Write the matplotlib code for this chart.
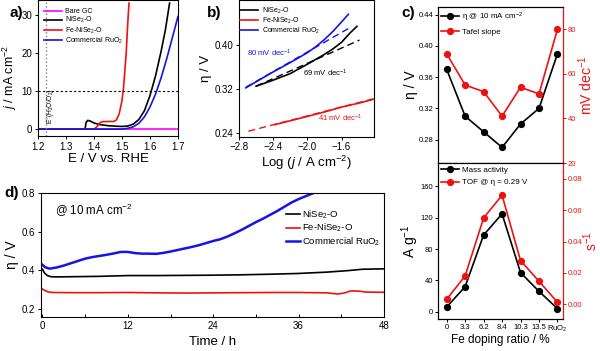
import numpy as np
import matplotlib
matplotlib.use("Agg")
import matplotlib.pyplot as plt

plt.rcParams['font.family'] = ['Liberation Sans', 'DejaVu Sans']
plt.rcParams['mathtext.fontset'] = 'custom'
plt.rcParams['mathtext.rm'] = 'Liberation Sans'
plt.rcParams['mathtext.it'] = 'Liberation Sans:italic'
plt.rcParams['axes.linewidth'] = 0.8

BLUE = '#1414e6'
RED = '#ee1111'
MAG = '#ff00ff'

# ---- a) LSV curves ----
E_bare = [1.20, 1.70]
j_bare = [0, 0]
E_ni = [1.20, 1.36, 1.368, 1.372, 1.378, 1.39, 1.40, 1.42, 1.45, 1.48, 1.50, 1.52, 1.54,
        1.56, 1.58, 1.60, 1.62, 1.64, 1.655, 1.67]
j_ni = [0, 0, 0.05, 1.8, 2.3, 2.0, 1.6, 1.2, 0.9, 0.75, 0.7, 0.8, 1.3,
        2.5, 4.8, 8.8, 14, 20.5, 26, 33]
E_fe = [1.20, 1.40, 1.41, 1.42, 1.43, 1.45, 1.47, 1.48, 1.49, 1.50, 1.505, 1.51, 1.515, 1.52, 1.525]
j_fe = [0, 0, 0.6, 1.6, 1.95, 2.0, 2.0, 2.4, 4.0, 7.5, 10.5, 15, 20, 27, 33]
E_ru = [1.20, 1.50, 1.52, 1.54, 1.56, 1.58, 1.60, 1.62, 1.64, 1.66, 1.68, 1.70]
j_ru = [0, 0, 0.2, 0.6, 1.5, 3.2, 5.8, 9.2, 13.5, 18.5, 24, 29.5]

# ---- b) Tafel plots ----
logj_ni = [-2.6, -2.4, -2.2, -2.0, -1.9, -1.8, -1.7, -1.6, -1.5, -1.42]
eta_ni = [0.325, 0.336, 0.348, 0.365, 0.374, 0.383, 0.393, 0.405, 0.422, 0.434]
logj_fe = [-2.38, -2.2, -2.0, -1.8, -1.6, -1.4, -1.23]
eta_fe = [0.255, 0.262, 0.270, 0.278, 0.287, 0.294, 0.301]
logj_ru = [-2.72, -2.6, -2.4, -2.2, -2.0, -1.9, -1.8, -1.7, -1.6, -1.52]
eta_ru = [0.322, 0.333, 0.351, 0.368, 0.386, 0.397, 0.410, 0.425, 0.442, 0.456]
fit_ni = ([-2.6, -1.39], [0.325, 0.409])
fit_fe = ([-2.69, -1.23], [0.243, 0.302])
fit_ru = ([-2.72, -1.52], [0.323, 0.430])

# ---- c) doping series ----
doping = ['0', '3.3', '6.2', '8.4', '10.3', '13.5', 'RuO$_2$']
eta10 = [0.37, 0.31, 0.29, 0.27, 0.30, 0.32, 0.39]
tafel = [69, 55, 52, 41, 54, 51, 80]
mass_act = [6, 32, 98, 125, 50, 26, 4]
tof = [0.0032, 0.0181, 0.0551, 0.0696, 0.0279, 0.0147, 0.0013]

# ---- d) stability ----
t_ru = [0, 0.4, 1, 2, 3, 4, 5, 6, 7, 8, 9, 10, 11, 12, 13, 14, 15, 16, 17, 18, 19, 20,
        21, 22, 23, 24, 25, 26, 27, 28, 29, 30, 31, 32, 33, 34, 35, 36, 37, 38, 38.5]
s_ru = [0.428, 0.415, 0.408, 0.414, 0.424, 0.436, 0.448, 0.460, 0.468, 0.474, 0.480, 0.487,
        0.495, 0.495, 0.489, 0.486, 0.486, 0.485, 0.490, 0.497, 0.505, 0.513, 0.521, 0.530,
        0.541, 0.552, 0.561, 0.575, 0.592, 0.610, 0.630, 0.650, 0.668, 0.688, 0.708, 0.730,
        0.752, 0.770, 0.785, 0.800, 0.810]
t_ni = [0, 0.3, 0.7, 1.2, 2, 4, 8, 12, 16, 20, 24, 28, 32, 36, 40, 43, 45, 48]
s_ni = [0.405, 0.385, 0.372, 0.366, 0.365, 0.366, 0.368, 0.372, 0.372, 0.373, 0.374,
        0.376, 0.379, 0.383, 0.390, 0.398, 0.405, 0.407]
t_fe = [0, 0.3, 0.8, 1.5, 4, 8, 12, 16, 20, 24, 28, 32, 36, 40, 41.5, 42.5, 43.3, 44.5, 45.5, 48]
s_fe = [0.302, 0.295, 0.287, 0.284, 0.283, 0.283, 0.284, 0.282, 0.281, 0.282, 0.283,
        0.284, 0.284, 0.282, 0.276, 0.282, 0.292, 0.291, 0.286, 0.285]

fig = plt.figure(figsize=(6, 3.51), dpi=100)

def box(l, t, r, b):
    return [l / 600, 1 - b / 351, (r - l) / 600, (b - t) / 351]

# ---------- a ----------
ax = fig.add_axes(box(38, 0, 178, 136))
ax.plot(E_bare, j_bare, color=MAG, lw=1.2, label='Bare GC')
ax.plot(E_ni, j_ni, color='k', lw=1.2, label='NiSe$_2$-O')
ax.plot(E_fe, j_fe, color=RED, lw=1.2, label='Fe-NiSe$_2$-O')
ax.plot(E_ru, j_ru, color=BLUE, lw=1.2, label='Commercial RuO$_2$')
ax.axvline(1.23, color='gray', ls=':', lw=1)
ax.axhline(10, color='k', ls='--', lw=0.8, dashes=(2, 2))
ax.text(1.247, 1.3, 'E$^{\\circ}$(H$_2$O/O$_2$)', rotation=90, fontsize=4.8, va='bottom', ha='center')
ax.set_xlim(1.2, 1.7)
ax.set_ylim(-1.8, 33.8)
ax.set_xticks([1.2, 1.3, 1.4, 1.5, 1.6, 1.7])
ax.set_yticks([0, 10, 20, 30])
ax.tick_params(labelsize=7, length=2.5, width=0.7, pad=1.5)
ax.set_xlabel('E / V vs. RHE', fontsize=9.5, labelpad=1)
ax.set_ylabel('$j$ / mA cm$^{-2}$', fontsize=9, labelpad=0)
ax.yaxis.set_label_coords(-0.135, 0.43)
ax.legend(loc='upper left', bbox_to_anchor=(0.03, 0.95), fontsize=5, frameon=False,
          labelspacing=0.0, handlelength=2.6, handletextpad=0.5, borderaxespad=0, borderpad=0.2)
fig.text(16 / 600, 1 - 13 / 351, 'a)', fontsize=11, fontweight='bold', ha='center', va='center')

# ---------- b ----------
ax = fig.add_axes(box(239, 0, 374, 136.7))
ax.plot(logj_ni, eta_ni, color='k', lw=1.2, label='NiSe$_2$-O')
ax.plot(logj_fe, eta_fe, color=RED, lw=1.2, label='Fe-NiSe$_2$-O')
ax.plot(logj_ru, eta_ru, color=BLUE, lw=1.2, label='Commercial RuO$_2$')
ax.plot(*fit_ni, color='k', lw=1.0, ls='--', dashes=(5, 3))
ax.plot(*fit_fe, color=RED, lw=1.0, ls='--', dashes=(5, 3))
ax.plot(*fit_ru, color=BLUE, lw=1.0, ls='--', dashes=(5, 3))
ax.text(-2.71, 0.385, '80 mV dec$^{-1}$', color=BLUE, fontsize=5.5, va='center')
ax.text(-2.05, 0.349, '69 mV dec$^{-1}$', color='k', fontsize=5.5, va='center')
ax.text(-1.88, 0.267, '41 mV dec$^{-1}$', color=RED, fontsize=5.5, va='center')
ax.set_xlim(-2.8, -1.22)
ax.set_ylim(0.233, 0.482)
ax.set_xticks([-2.8, -2.4, -2.0, -1.6])
ax.set_yticks([0.24, 0.32, 0.40])
ax.tick_params(labelsize=7, length=2.5, width=0.7, pad=1.5)
ax.set_xlabel('Log ($j$ / A cm$^{-2}$)', fontsize=9.5, labelpad=1)
ax.set_ylabel('η / V', fontsize=9.5, labelpad=2)
ax.legend(loc='upper left', bbox_to_anchor=(0.0, 0.97), fontsize=5, frameon=False,
          labelspacing=0.0, handlelength=2.6, handletextpad=0.5, borderaxespad=0, borderpad=0.2)
fig.text(214 / 600, 1 - 13 / 351, 'b)', fontsize=11, fontweight='bold', ha='center', va='center')

# ---------- c top ----------
x = np.arange(len(doping))
ax = fig.add_axes(box(438, 7, 563, 163))
ax2 = ax.twinx()
l1, = ax.plot(x, eta10, color='k', marker='o', ms=4.2, lw=1.2, label='η @ 10 mA cm$^{-2}$')
l2, = ax2.plot(x, tafel, color=RED, marker='o', ms=4.2, lw=1.2, label='Tafel slope')
ax.set_xlim(-0.47, 6.3)
ax.set_ylim(0.25, 0.45)
ax.set_yticks([0.28, 0.32, 0.36, 0.40, 0.44])
ax.set_xticks(x)
ax.tick_params(axis='x', labelbottom=False, length=0)
ax.tick_params(axis='y', labelsize=5.5, length=2.5, width=0.7, pad=1)
ax2.set_ylim(20, 90)
ax2.set_yticks([20, 40, 60, 80])
ax2.tick_params(axis='y', labelsize=5.5, length=2.5, width=0.7, pad=1, colors=RED)
ax2.spines['right'].set_color(RED)
ax.set_ylabel('η / V', fontsize=10, labelpad=0)
ax2.set_ylabel('mV dec$^{-1}$', fontsize=10, color=RED, labelpad=0)
ax.legend([l1, l2], [l1.get_label(), l2.get_label()], loc='upper left', fontsize=5.8,
          frameon=False, labelspacing=0.6, handlelength=2.2, handletextpad=0.4,
          borderaxespad=0.2, borderpad=0.2)
fig.text(408 / 600, 1 - 13 / 351, 'c)', fontsize=11, fontweight='bold', ha='center', va='center')

# ---------- c bottom ----------
ax = fig.add_axes(box(438, 163, 563, 319))
ax2 = ax.twinx()
l1, = ax.plot(x, mass_act, color='k', marker='o', ms=4.2, lw=1.2, label='Mass activity')
l2, = ax2.plot(x, tof, color=RED, marker='o', ms=4.2, lw=1.2, label='TOF @ η = 0.29 V')
ax.set_xlim(-0.47, 6.3)
ax.set_ylim(-9.3, 190)
ax.set_yticks([0, 40, 80, 120, 160])
ax.set_xticks(x)
ax.set_xticklabels(doping)
ax.tick_params(axis='x', labelsize=5.5, length=2.5, width=0.7, pad=1)
ax.tick_params(axis='y', labelsize=5.5, length=2.5, width=0.7, pad=1)
ax2.set_ylim(-0.0094, 0.0902)
ax2.set_yticks([0.00, 0.02, 0.04, 0.06, 0.08])
ax2.set_yticklabels(['0.00', '0.02', '0.04', '0.06', '0.08'])
ax2.tick_params(axis='y', labelsize=5.5, length=2.5, width=0.7, pad=1, colors=RED)
ax2.spines['right'].set_color(RED)
ax.set_ylabel('A g$^{-1}$', fontsize=10, labelpad=0)
ax2.set_ylabel('s$^{-1}$', fontsize=10, color=RED, labelpad=-1)
ax.set_xlabel('Fe doping ratio / %', fontsize=8.5, labelpad=0)
ax.legend([l1, l2], [l1.get_label(), l2.get_label()], loc='upper left', fontsize=5.8,
          frameon=False, labelspacing=0.6, handlelength=2.2, handletextpad=0.4,
          borderaxespad=0.2, borderpad=0.2)

# ---------- d ----------
ax = fig.add_axes(box(41, 193.3, 384, 316.7))
ax.plot(t_ni, s_ni, color='k', lw=1.2, label='NiSe$_2$-O')
ax.plot(t_fe, s_fe, color=RED, lw=1.2, label='Fe-NiSe$_2$-O')
ax.plot(t_ru, s_ru, color=BLUE, lw=1.8, label='Commercial RuO$_2$')
ax.set_xlim(-0.2, 48)
ax.set_ylim(0.158, 0.8)
ax.set_xticks([0, 12, 24, 36, 48])
ax.set_xticks([6, 18, 30, 42], minor=True)
ax.set_yticks([0.2, 0.4, 0.6, 0.8])
ax.tick_params(axis='x', direction='in', which='both', labelsize=7, length=2.5, width=0.7, pad=3)
ax.tick_params(axis='y', labelsize=7, length=2.5, width=0.7, pad=1.5)
ax.set_xlabel('Time / h', fontsize=9.5, labelpad=4)
ax.set_ylabel('η / V', fontsize=10, labelpad=2)
ax.text(1.7, 0.713, '@ 10 mA cm$^{-2}$', fontsize=8.3, va='center')
ax.legend(loc='upper right', bbox_to_anchor=(1.0, 0.91), fontsize=6.8, frameon=False,
          labelspacing=0.12, handlelength=1.5, handletextpad=0.2, borderaxespad=0.2, borderpad=0.2)
fig.text(12 / 600, 1 - 193 / 351, 'd)', fontsize=11, fontweight='bold', ha='center', va='center')

fig.savefig('out.png', dpi=100)
